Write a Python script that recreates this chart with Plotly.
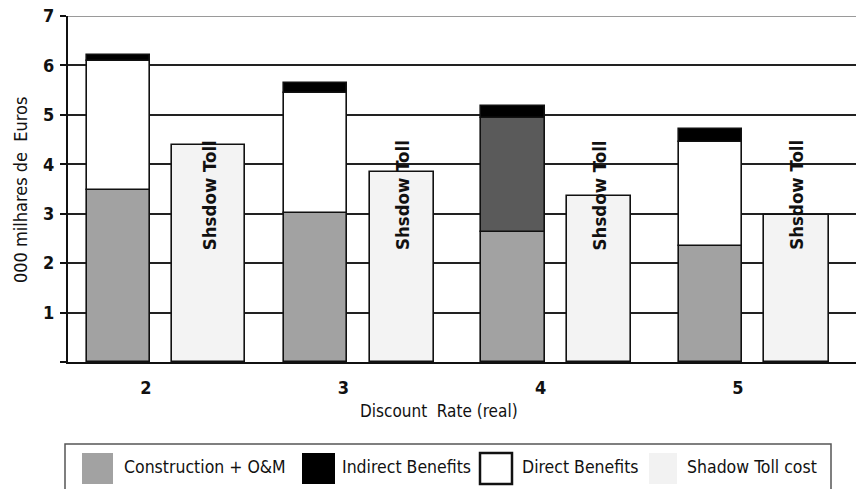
import plotly.graph_objects as go

# Discount rates (real) and cost/benefit components, in 000 milhares de Euros
rates = [2, 3, 4, 5]
construction_om = [3.47, 3.02, 2.64, 2.34]
direct_benefits = [2.61, 2.43, 2.30, 2.11]
indirect_benefits = [0.13, 0.20, 0.23, 0.27]
shadow_toll_cost = [4.39, 3.84, 3.35, 2.97]

series_names = ["Construction + O&M", "Indirect Benefits", "Direct Benefits", "Shadow Toll cost"]
bar_label = "Shsdow Toll"
y_ticks = [0, 1, 2, 3, 4, 5, 6, 7]

NARROW = "DejaVu Sans Condensed, Liberation Sans, Arial, sans-serif"

C_CONS = "#a2a2a2"
C_IND = "#000000"
C_DIR = ["#ffffff", "#ffffff", "#5a5a5a", "#ffffff"]
C_SHADOW = "#f3f3f3"
LINE = dict(color="#111111", width=1.6)

STACK_OFF, STACK_W = -0.30, 0.32
SHADOW_OFF = 0.134
SHADOW_W = [0.37, 0.325, 0.325, 0.325]

base_dir = construction_om
base_ind = [c + d for c, d in zip(construction_om, direct_benefits)]

fig = go.Figure()
fig.add_bar(x=rates, y=construction_om, base=0, offset=STACK_OFF, width=STACK_W,
            marker=dict(color=C_CONS, line=LINE), name=series_names[0], showlegend=False)
fig.add_bar(x=rates, y=direct_benefits, base=base_dir, offset=STACK_OFF, width=STACK_W,
            marker=dict(color=C_DIR, line=LINE), name=series_names[2], showlegend=False)
fig.add_bar(x=rates, y=indirect_benefits, base=base_ind, offset=STACK_OFF, width=STACK_W,
            marker=dict(color=C_IND, line=LINE), name=series_names[1], showlegend=False)
fig.add_bar(x=rates, y=shadow_toll_cost, base=0, offset=SHADOW_OFF, width=SHADOW_W,
            marker=dict(color=C_SHADOW, line=LINE), name=series_names[3], showlegend=False)

# Rotated labels over the shadow-toll bars
annotations = []
for r, w in zip(rates, SHADOW_W):
    annotations.append(dict(
        x=r + SHADOW_OFF + w / 2, y=2.22, xref="x", yref="y",
        text="<b>" + bar_label + "</b>", textangle=-90, showarrow=False,
        xanchor="center", yanchor="bottom",
        font=dict(family=NARROW, size=18.5, color="#111111")))

# Plot area in pixels: x 68..856, y 16..362
PX0, PX1, PY0, PY1 = 68, 856, 16, 362
def px(x):
    return (x - PX0) / (PX1 - PX0)
def py(y):
    return (PY1 - y) / (PY1 - PY0)

annotations.append(dict(x=px(439), y=py(411), xref="paper", yref="paper",
                        text="Discount  Rate (real)", showarrow=False,
                        xanchor="center", yanchor="middle",
                        font=dict(family=NARROW, size=17, color="#111111")))
annotations.append(dict(x=px(20), y=py(190), xref="paper", yref="paper",
                        text="000 milhares de  Euros", showarrow=False, textangle=-90,
                        xanchor="center", yanchor="middle",
                        font=dict(family=NARROW, size=18, color="#111111")))

shapes = [
    # top boundary at 7
    dict(type="line", xref="paper", yref="y", x0=0, x1=1, y0=7, y1=7,
         line=dict(color="#9a9a9a", width=2), layer="above"),
    # legend frame
    dict(type="rect", xref="paper", yref="paper", x0=px(65), x1=px(831),
         y0=py(500), y1=py(444), line=dict(color="#555555", width=1.5),
         fillcolor="rgba(0,0,0,0)"),
]

legend_items = [
    (82, 113, C_CONS, None, 122),
    (302, 335, C_IND, None, 340),
    (480, 512, "#ffffff", "#111111", 520),
    (649, 677, "#f2f2f2", None, 685),
]
for (x0, x1, fill, border, tx), name in zip(legend_items, series_names):
    shapes.append(dict(type="rect", xref="paper", yref="paper",
                       x0=px(x0), x1=px(x1), y0=py(484), y1=py(453),
                       fillcolor=fill,
                       line=dict(color=border if border else fill, width=2.5 if border else 0)))
    annotations.append(dict(x=px(tx), y=py(467), xref="paper", yref="paper",
                            text=name, showarrow=False, xanchor="left", yanchor="middle",
                            font=dict(family=NARROW, size=17.5, color="#111111")))

fig.update_layout(
    width=856, height=489,
    margin=dict(l=PX0, r=856 - PX1, t=PY0, b=489 - PY1, pad=0),
    paper_bgcolor="white", plot_bgcolor="white",
    barmode="overlay", bargap=0,
    showlegend=False,
    annotations=annotations, shapes=shapes,
    xaxis=dict(range=[1.6047, 5.598], tickvals=rates,
               ticktext=["<b>%d</b>" % r for r in rates],
               tickfont=dict(family=NARROW, size=18, color="#111111"),
               ticks="", ticklabelstandoff=8,
               showgrid=False, zeroline=False,
               showline=True, linecolor="#111111", linewidth=2),
    yaxis=dict(range=[0, 7], tickvals=y_ticks,
               ticktext=["<b>%d</b>" % v if v > 0 else "" for v in y_ticks],
               tickfont=dict(family=NARROW, size=18, color="#111111"),
               ticks="outside", ticklen=6, tickwidth=1.5, tickcolor="#111111",
               ticklabelstandoff=2,
               showgrid=True, gridcolor="#222222", gridwidth=1.5,
               zeroline=False,
               showline=True, linecolor="#111111", linewidth=2),
)

fig.write_html("out.html")
